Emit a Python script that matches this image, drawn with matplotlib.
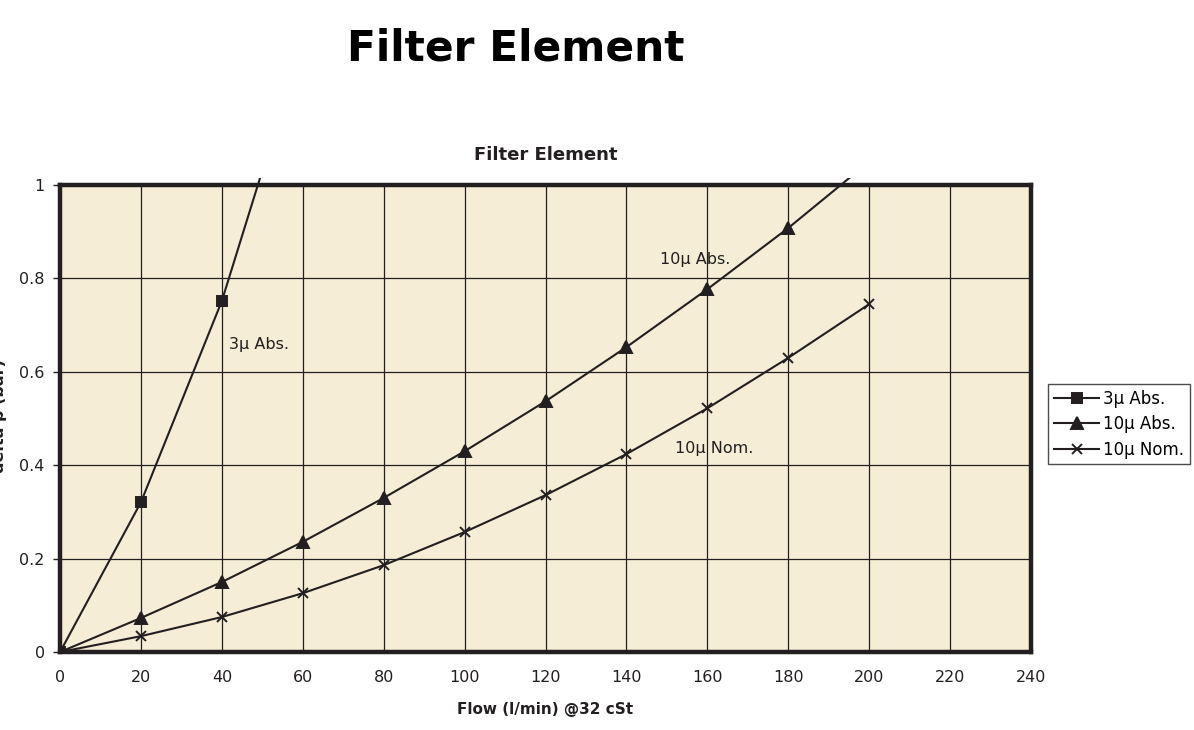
import matplotlib
matplotlib.use("Agg")
import matplotlib.pyplot as plt
from matplotlib.patches import Rectangle

# data
flow_3abs = [0, 20, 40, 60]
dp_3abs = [0, 0.321, 0.752, 1.31]
flow_10abs = [0, 20, 40, 60, 80, 100, 120, 140, 160, 180, 200]
dp_10abs = [0, 0.073, 0.150, 0.236, 0.330, 0.430, 0.537, 0.653, 0.777, 0.908, 1.05]
flow_10nom = [0, 20, 40, 60, 80, 100, 120, 140, 160, 180, 200]
dp_10nom = [0, 0.034, 0.075, 0.126, 0.186, 0.257, 0.336, 0.424, 0.522, 0.630, 0.745]
x_ticks = list(range(0, 241, 20))
y_ticks = [0, 0.2, 0.4, 0.6, 0.8, 1]
y_labels = ["0", "0.2", "0.4", "0.6", "0.8", "1"]

ink = "#231f20"
plt.rcParams['font.family'] = ['DejaVu Sans']

fig = plt.figure(figsize=(11.94, 7.30), dpi=100)
ax = fig.add_axes([0.0503, 0.1068, 0.8132, 0.6397])
ax.set_facecolor("#f5edd5")

# lines run a little past the top frame, then get cut
clip = Rectangle((0, 0), 1, 1.016, transform=ax.transAxes, visible=False)
ax.add_patch(clip)

series = [
    (flow_3abs, dp_3abs, "s", 7, "3\u03bc Abs."),
    (flow_10abs, dp_10abs, "^", 8, "10\u03bc Abs."),
    (flow_10nom, dp_10nom, "x", 7, "10\u03bc Nom."),
]
for fx, dy, mk, ms, lab in series:
    ln, = ax.plot(fx, dy, color=ink, lw=1.5, marker=mk, ms=ms, mew=1.4,
                  mfc=ink, mec=ink, label=lab, zorder=3)
    ln.set_clip_path(clip)

ax.set_xlim(0, 240)
ax.set_ylim(0, 1)
ax.set_xticks(x_ticks)
ax.set_yticks(y_ticks)
ax.set_yticklabels(y_labels)
ax.grid(True, color=ink, lw=0.9)
ax.set_axisbelow(True)
for s in ax.spines.values():
    s.set_linewidth(3.2)
    s.set_color(ink)
ax.tick_params(axis="y", length=5, width=1, colors=ink, labelsize=11.5, pad=6)
ax.tick_params(axis="x", length=0, colors=ink, labelsize=11.5, pad=13)

ax.text(41.7, 0.658, "3\u03bc Abs.", fontsize=11.5, color=ink, va="center")
ax.text(148.2, 0.84, "10\u03bc Abs.", fontsize=11.5, color=ink, va="center")
ax.text(152, 0.435, "10\u03bc Nom.", fontsize=11.5, color=ink, va="center")

ax.set_title("Filter Element", fontsize=13, fontweight="bold", color=ink, pad=18)
ax.set_xlabel("Flow (l/min) @32 cSt", fontsize=11, fontweight="bold", color=ink, labelpad=12)
fig.text(0.0, 0.43, "delta p (bar)", rotation=90, fontsize=11.5, fontweight="bold",
         color=ink, ha="center", va="center")

fig.suptitle("Filter Element", x=0.432, y=0.962, fontsize=30.5, fontweight="bold",
             color="black")

leg = ax.legend(loc="center left", bbox_to_anchor=(1.018, 0.488), fontsize=12,
                frameon=True, fancybox=False, edgecolor=ink, handlelength=2.7,
                handletextpad=0.25, borderpad=0.35, labelspacing=0.45, borderaxespad=0)
leg.get_frame().set_linewidth(1)

fig.savefig("out.png", dpi=100)
